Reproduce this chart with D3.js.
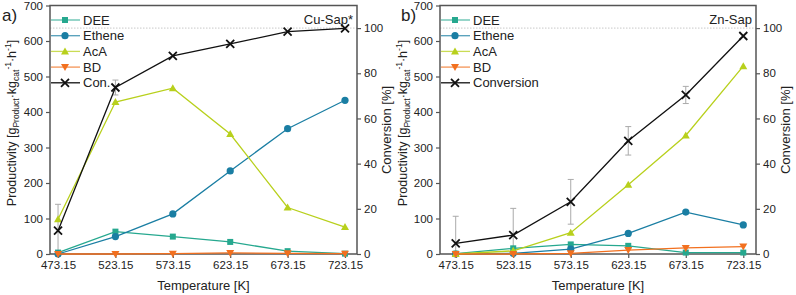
<!DOCTYPE html>
<html><head><meta charset="utf-8">
<script src="https://cdn.jsdelivr.net/npm/d3@7"></script>
<style>
body{margin:0;background:#fff;}
text{font-family:"Liberation Sans",Arial,sans-serif;fill:#222;}
</style></head>
<body><svg id="c" width="796" height="295"></svg>
<script>
const temps = [473.15, 523.15, 573.15, 623.15, 673.15, 723.15];
const tickLabels = ["473.15","523.15","573.15","623.15","673.15","723.15"];
const yTicksLeft = [0,100,200,300,400,500,600,700];
const yTicksRight = [0,20,40,60,80,100];

// Panel a: Cu-Sap*
const a_DEE = [4, 63, 49, 34, 8, 1];
const a_Ethene = [0, 49, 113, 234, 353, 433];
const a_AcA = [98, 428, 467, 338, 131, 76];
const a_BD = [0, 0, 1, 3, 2, 1];
const a_Conv = [10.3, 73.7, 87.7, 93.0, 98.4, 99.9];
const a_ConvErr = [11.7, 3.3, 0.6, 0.5, 0.4, 0.3];

// Panel b: Zn-Sap
const b_DEE = [1, 16, 27, 23, 4, 4];
const b_Ethene = [0, 2, 14, 58, 118, 82];
const b_AcA = [0, 9, 60, 195, 334, 529];
const b_BD = [0, 0, 2, 11, 17, 21];
const b_Conv = [4.7, 8.4, 23.1, 50.1, 70.4, 96.5];
const b_ConvErr = [12, 11.8, 9.9, 6.3, 3.8, 0];

const colors = {DEE:"#26a88f", Ethene:"#1a7ea3", AcA:"#b8d01c", BD:"#f2701f", Conv:"#111"};

const svg = d3.select("#c");

function sym(g, type, x, y, color){
  if(type==="square"){
    g.append("rect").attr("x",x-3).attr("y",y-3).attr("width",6).attr("height",6).attr("fill",color);
  } else if(type==="circle"){
    g.append("circle").attr("cx",x).attr("cy",y).attr("r",3.6).attr("fill",color);
  } else if(type==="up"){
    g.append("path").attr("d",`M${x},${y-4}L${x+4},${y+3}L${x-4},${y+3}Z`).attr("fill",color);
  } else if(type==="down"){
    g.append("path").attr("d",`M${x},${y+4}L${x+4},${y-3}L${x-4},${y-3}Z`).attr("fill",color);
  } else if(type==="x"){
    g.append("path").attr("d",`M${x-4},${y-4}L${x+4},${y+4}M${x-4},${y+4}L${x+4},${y-4}`).attr("stroke",color).attr("stroke-width",1.8);
  }
}

function panel(cfg){
  const L=cfg.left, R=cfg.right, T=5.5, B=254;
  const x = d3.scaleLinear().domain(cfg.xdom).range([L,R]);
  const yL = d3.scaleLinear().domain([0,700]).range([B,T]);
  const yR = d3.scaleLinear().domain([0,110]).range([B,T]);
  const g = svg.append("g");

  g.append("line").attr("x1",L).attr("x2",R).attr("y1",yR(100)).attr("y2",yR(100))
    .attr("stroke","#bbb").attr("stroke-width",0.8).attr("stroke-dasharray","1.5,1.5");

  const axisColor="#555";
  const axL = g.append("g").attr("transform",`translate(${L},0)`)
    .call(d3.axisLeft(yL).tickValues(yTicksLeft).tickSize(4).tickPadding(3));
  const axR = g.append("g").attr("transform",`translate(${R},0)`)
    .call(d3.axisRight(yR).tickValues(yTicksRight).tickSize(4).tickPadding(3));
  const axB = g.append("g").attr("transform",`translate(0,${B})`)
    .call(d3.axisBottom(x).tickValues(temps).tickFormat((d,i)=>tickLabels[i]).tickSize(4).tickPadding(3));
  [axL,axR,axB].forEach(a=>{
    a.select(".domain").remove();
    a.selectAll(".tick line").attr("stroke",axisColor).attr("stroke-width",1.2);
    a.selectAll(".tick text").style("font-size","11.5px").attr("fill","#222").style("font-family","Liberation Sans, Arial, sans-serif");
  });
  g.append("rect").attr("x",L).attr("y",T).attr("width",R-L).attr("height",B-T)
    .attr("fill","none").attr("stroke",axisColor).attr("stroke-width",1.5);

  const eg = g.append("g");
  cfg.conv.forEach((v,i)=>{
    const e = cfg.convErr[i]; if(e<=1) return;
    const y1 = yR(Math.max(0,v-e)), y2 = yR(v+e), xx = x(temps[i]);
    eg.append("line").attr("x1",xx).attr("x2",xx).attr("y1",y1).attr("y2",y2).attr("stroke","#aaa").attr("stroke-width",1);
    [y1,y2].forEach(yy=>eg.append("line").attr("x1",xx-3).attr("x2",xx+3).attr("y1",yy).attr("y2",yy).attr("stroke","#aaa").attr("stroke-width",1));
  });

  const series = [
    {name:"DEE", vals:cfg.DEE, type:"square", scale:yL},
    {name:"Ethene", vals:cfg.Ethene, type:"circle", scale:yL},
    {name:"AcA", vals:cfg.AcA, type:"up", scale:yL},
    {name:"BD", vals:cfg.BD, type:"down", scale:yL},
    {name:"Conv", vals:cfg.conv, type:"x", scale:yR}
  ];
  series.forEach(s=>{
    const line = d3.line().x((d,i)=>x(temps[i])).y(d=>s.scale(d));
    g.append("path").attr("d",line(s.vals)).attr("fill","none").attr("stroke",colors[s.name]).attr("stroke-width",1.3);
    s.vals.forEach((d,i)=>sym(g,s.type,x(temps[i]),s.scale(d),colors[s.name]));
  });

  const labels = ["DEE","Ethene","AcA","BD",cfg.convLabel];
  series.forEach((s,i)=>{
    const yy = 20 + i*15.7;
    g.append("line").attr("x1",L+1).attr("x2",L+30).attr("y1",yy).attr("y2",yy).attr("stroke",colors[s.name]).attr("stroke-width",1.3).attr("stroke-opacity",s.name==="Conv"?1:0.75);
    sym(g,s.type,L+15,yy,colors[s.name]);
    g.append("text").attr("x",L+33).attr("y",yy+4.5).style("font-size","13px").text(labels[i]);
  });

  g.append("text").attr("x",R-4).attr("y",24).attr("text-anchor","end").style("font-size","13px").text(cfg.title);
  g.append("text").attr("x",cfg.tagX).attr("y",21).style("font-size","17px").text(cfg.tag);

  g.append("text").attr("x",(L+R)/2).attr("y",290).attr("text-anchor","middle").style("font-size","13px").text("Temperature [K]");

  const ly = g.append("text").attr("transform",`translate(${cfg.ylabX},123) rotate(-90)`)
    .attr("text-anchor","middle").style("font-size","12.5px");
  ly.append("tspan").text("Productivity [g");
  ly.append("tspan").attr("dy",3).style("font-size","8.5px").text("Product");
  ly.append("tspan").attr("dy",-3).text("·kg");
  ly.append("tspan").attr("dy",3).style("font-size","8.5px").text("cat");
  ly.append("tspan").attr("dy",-8).style("font-size","8.5px").text("-1");
  ly.append("tspan").attr("dy",5).text("·h");
  ly.append("tspan").attr("dy",-5).style("font-size","8.5px").text("-1");
  ly.append("tspan").attr("dy",5).text("]");

  g.append("text").attr("transform",`translate(${R+34},130) rotate(-90)`)
    .attr("text-anchor","middle").style("font-size","13px").text("Conversion [%]");
}

panel({left:50, right:357, xdom:[466.15,733.6], DEE:a_DEE, Ethene:a_Ethene, AcA:a_AcA, BD:a_BD,
  conv:a_Conv, convErr:a_ConvErr, convLabel:"Con.", title:"Cu-Sap*", tag:"a)", tagX:2, ylabX:16});
panel({left:440, right:756, xdom:[459.5,734.2], DEE:b_DEE, Ethene:b_Ethene, AcA:b_AcA, BD:b_BD,
  conv:b_Conv, convErr:b_ConvErr, convLabel:"Conversion", title:"Zn-Sap", tag:"b)", tagX:401, ylabX:407});
</script></body></html>
